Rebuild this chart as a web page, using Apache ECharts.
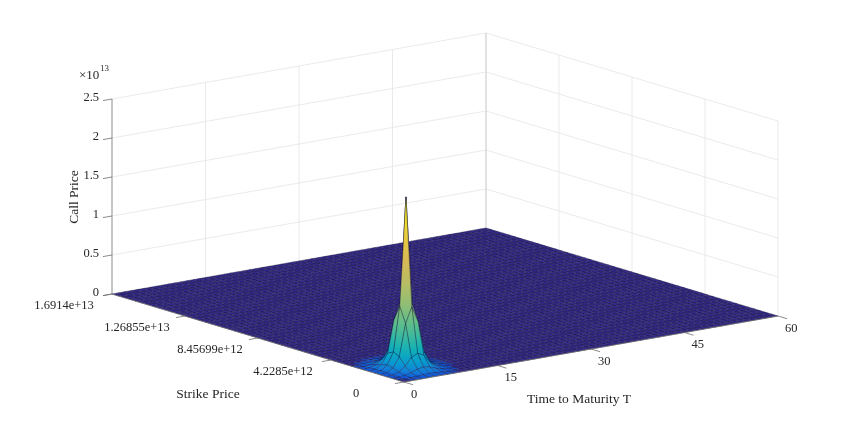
<!DOCTYPE html>
<html>
<head>
<meta charset="utf-8">
<script src="https://cdn.jsdelivr.net/npm/echarts@6/dist/echarts.min.js"></script>
<style>
  html, body { margin: 0; padding: 0; background: #fff; }
  #chart { width: 855px; height: 432px; }
</style>
</head>
<body>
<div id="chart"></div>
<script>
// axis ranges
const strikeMax = 1.6914e13;
const maturityMax = 60;
const priceAxisMax = 2.5e13;

// ticks
const strikeTicks = [0, 4.2285e12, 8.45699e12, 1.26855e13, 1.6914e13];
const strikeTickLabels = ['0', '4.2285e+12', '8.45699e+12', '1.26855e+13', '1.6914e+13'];
const maturityTicks = [0, 15, 30, 45, 60];
const maturityTickLabels = ['0', '15', '30', '45', '60'];
const priceTicks = [0, 0.5e13, 1e13, 1.5e13, 2e13, 2.5e13];
const priceTickLabels = ['0', '0.5', '1', '1.5', '2', '2.5'];

// surface grid: 51 strikes, 61 maturities (T = 0..60)
const strikeSteps = 50;
const maturitySteps = 60;

// call prices (x1e12) round the spike, rows = strike index 0..12, cols = maturity index 0..12
// the rest of the surface reads as 0 on the picture
const spikePrices = [
  [0.00, 0.00, 0.00, 0.00, 0.01, 0.02, 0.01, 0.00, 0.00, 0.00, 0.00, 0.00, 0.00],
  [0.00, 0.00, 0.02, 0.07, 0.12, 0.15, 0.12, 0.07, 0.02, 0.00, 0.00, 0.00, 0.00],
  [0.00, 0.02, 0.10, 0.30, 0.60, 0.75, 0.60, 0.30, 0.10, 0.02, 0.00, 0.00, 0.00],
  [0.00, 0.07, 0.30, 0.90, 1.90, 2.30, 1.90, 0.90, 0.30, 0.07, 0.00, 0.00, 0.00],
  [0.01, 0.12, 0.60, 1.90, 6.00, 8.00, 6.00, 1.90, 0.60, 0.12, 0.01, 0.00, 0.00],
  [0.02, 0.15, 0.75, 2.30, 8.00, 21.9, 8.00, 2.30, 0.75, 0.15, 0.02, 0.00, 0.00],
  [0.01, 0.12, 0.60, 1.90, 6.00, 8.00, 6.00, 1.90, 0.60, 0.12, 0.01, 0.00, 0.00],
  [0.00, 0.07, 0.30, 0.90, 1.90, 2.30, 1.90, 0.90, 0.30, 0.07, 0.00, 0.00, 0.00],
  [0.00, 0.02, 0.10, 0.30, 0.60, 0.75, 0.60, 0.30, 0.10, 0.02, 0.00, 0.00, 0.00],
  [0.00, 0.00, 0.02, 0.07, 0.12, 0.15, 0.12, 0.07, 0.02, 0.00, 0.00, 0.00, 0.00],
  [0.00, 0.00, 0.00, 0.00, 0.01, 0.02, 0.01, 0.00, 0.00, 0.00, 0.00, 0.00, 0.00],
  [0.00, 0.00, 0.00, 0.00, 0.00, 0.00, 0.00, 0.00, 0.00, 0.00, 0.00, 0.00, 0.00],
  [0.00, 0.00, 0.00, 0.00, 0.00, 0.00, 0.00, 0.00, 0.00, 0.00, 0.00, 0.00, 0.00]
];

// --- view (orthographic, like matlab's default 3-D view) ---
const ORIGIN = [404, 382];       // K=0, T=0, C=0
const STRIKE_VEC = [-292, -88];  // K: 0 -> strikeMax
const MATURITY_VEC = [374, -66]; // T: 0 -> maturityMax
const PRICE_VEC = -195;          // C: 0 -> priceAxisMax

const FONT = '"Liberation Serif", "Times New Roman", serif';
const TEXT_COLOR = '#262626';
const GRID_COLOR = '#e4e4e4';
const AXIS_COLOR = '#6e6e6e';

// parula colormap anchors
const PARULA = [
  [53, 42, 135], [15, 92, 221], [18, 125, 216], [7, 156, 207], [21, 177, 180],
  [89, 189, 140], [165, 190, 107], [225, 185, 82], [249, 251, 14]
];

function parula(f) {
  f = Math.max(0, Math.min(1, f));
  const p = f * (PARULA.length - 1);
  const i = Math.min(Math.floor(p), PARULA.length - 2);
  const w = p - i;
  const a = PARULA[i], b = PARULA[i + 1];
  return 'rgb(' + [0, 1, 2].map(c => Math.round(a[c] + (b[c] - a[c]) * w)).join(',') + ')';
}

// the coarse mesh needs a bent colour scale to look like matlab's faceted spike
function priceColor(c) {
  return parula(Math.pow(Math.max(0, c) / peakPrice, 0.35));
}

function project(K, T, C) {
  const kf = K / strikeMax, tf = T / maturityMax, cf = C / priceAxisMax;
  return [
    ORIGIN[0] + STRIKE_VEC[0] * kf + MATURITY_VEC[0] * tf,
    ORIGIN[1] + STRIKE_VEC[1] * kf + MATURITY_VEC[1] * tf + PRICE_VEC * cf
  ];
}

function priceAt(k, t) {
  if (k < spikePrices.length && t < spikePrices[0].length) return spikePrices[k][t] * 1e12;
  return 0;
}
function strikeAt(k) { return k * strikeMax / strikeSteps; }
function maturityAt(t) { return t * maturityMax / maturitySteps; }

let peakPrice = 0;
spikePrices.forEach(r => r.forEach(v => { peakPrice = Math.max(peakPrice, v * 1e12); }));

// faces drawn back to front
const faces = [];
for (let k = 0; k < strikeSteps; k++) {
  for (let t = 0; t < maturitySteps; t++) faces.push([k, t]);
}
const depth = f => STRIKE_VEC[1] * (f[0] + 0.5) / strikeSteps + MATURITY_VEC[1] * (f[1] + 0.5) / maturitySteps;
faces.sort((a, b) => depth(a) - depth(b));

// grid lines on the two back walls
const wallLines = [];
priceTicks.forEach(c => {
  wallLines.push({ a: [strikeMax, 0, c], b: [strikeMax, maturityMax, c] });
  wallLines.push({ a: [0, maturityMax, c], b: [strikeMax, maturityMax, c] });
});
maturityTicks.slice(1, -1).forEach(t => {
  wallLines.push({ a: [strikeMax, t, 0], b: [strikeMax, t, priceAxisMax] });
});
strikeTicks.slice(0, -1).forEach(k => {
  wallLines.push({ a: [k, maturityMax, 0], b: [k, maturityMax, priceAxisMax] });
});
wallLines.push({ a: [strikeMax, maturityMax, 0], b: [strikeMax, maturityMax, priceAxisMax], corner: true });

// axis lines and ticks
const tickT = 1.45;                 // tick length in maturity units
const tickK = 0.031 * strikeMax;    // tick length in strike units
const axisLines = [
  { a: [0, 0, 0], b: [strikeMax, 0, 0] },
  { a: [0, 0, 0], b: [0, maturityMax, 0] },
  { a: [strikeMax, 0, 0], b: [strikeMax, 0, priceAxisMax] }
];
strikeTicks.forEach(k => axisLines.push({ a: [k, 0, 0], b: [k, -tickT, 0] }));
maturityTicks.forEach(t => axisLines.push({ a: [0, t, 0], b: [-tickK, t, 0] }));
priceTicks.forEach(c => axisLines.push({ a: [strikeMax, 0, c], b: [strikeMax, -tickT, c] }));

// tick labels
const tickLabels = [];
strikeTicks.forEach((k, i) => tickLabels.push({ p: [k, 0, 0], text: strikeTickLabels[i], dx: -48, dy: 11.5, align: 'center' }));
maturityTicks.forEach((t, i) => tickLabels.push({ p: [0, t, 0], text: maturityTickLabels[i], dx: 7, dy: 12.5, align: 'left' }));
priceTicks.forEach((c, i) => tickLabels.push({ p: [strikeMax, 0, c], text: priceTickLabels[i], dx: -13, dy: -1, align: 'right' }));

function lineItem(api, seg, style) {
  const a = api.coord(project(...seg.a));
  const b = api.coord(project(...seg.b));
  return { type: 'line', shape: { x1: a[0], y1: a[1], x2: b[0], y2: b[1] }, style: style };
}

const chart = echarts.init(document.getElementById('chart'));

chart.setOption({
  animation: false,
  backgroundColor: '#ffffff',
  grid: { left: 0, right: 0, top: 0, bottom: 0 },
  xAxis: { type: 'value', min: 0, max: 855, show: false },
  yAxis: { type: 'value', min: 0, max: 432, inverse: true, show: false },
  graphic: [
    { type: 'text', x: 79, y: 76, style: { text: '×10', font: '13px ' + FONT, fill: TEXT_COLOR, align: 'left', verticalAlign: 'middle' } },
    { type: 'text', x: 100, y: 69, style: { text: '13', font: '9px ' + FONT, fill: TEXT_COLOR, align: 'left', verticalAlign: 'middle' } },
    { type: 'text', x: 74, y: 197, rotation: Math.PI / 2, style: { text: 'Call Price', font: '13.5px ' + FONT, fill: TEXT_COLOR, align: 'center', verticalAlign: 'middle' } },
    { type: 'text', x: 208, y: 394, style: { text: 'Strike Price', font: '13.5px ' + FONT, fill: TEXT_COLOR, align: 'center', verticalAlign: 'middle' } },
    { type: 'text', x: 579, y: 399, style: { text: 'Time to Maturity T', font: '13.5px ' + FONT, fill: TEXT_COLOR, align: 'center', verticalAlign: 'middle' } }
  ],
  series: [
    {
      name: 'walls',
      type: 'custom',
      silent: true,
      z: 1,
      data: wallLines.map((_, i) => [i, 0]),
      renderItem: (params, api) => {
        const seg = wallLines[params.dataIndex];
        return lineItem(api, seg, {
          stroke: seg.corner ? '#d9d9d9' : GRID_COLOR,
          lineWidth: seg.corner ? 1.5 : 0.8
        });
      }
    },
    {
      name: 'Call Price',
      type: 'custom',
      silent: true,
      z: 2,
      data: faces,
      renderItem: (params, api) => {
        const k = api.value(0), t = api.value(1);
        const corners = [[k, t], [k + 1, t], [k + 1, t + 1], [k, t + 1]];
        const zs = corners.map(c => priceAt(c[0], c[1]));
        const pts = corners.map((c, i) => api.coord(project(strikeAt(c[0]), maturityAt(c[1]), zs[i])));
        const zmin = Math.min(...zs), zmax = Math.max(...zs);
        let fill;
        if ((zmax - zmin) / priceAxisMax * -PRICE_VEC < 1) {
          fill = priceColor((zmin + zmax) / 2);
        } else {
          const ys = pts.map(p => p[1]);
          const yTop = Math.min(...ys), yBot = Math.max(...ys);
          const stops = [];
          for (let s = 0; s <= 6; s++) {
            stops.push({ offset: s / 6, color: priceColor(zmax - (zmax - zmin) * s / 6) });
          }
          fill = { type: 'linear', x: pts[0][0], y: yTop, x2: pts[0][0], y2: yBot, colorStops: stops, global: true };
        }
        return {
          type: 'polygon',
          shape: { points: pts },
          style: { fill: fill, stroke: 'rgba(12,8,55,0.6)', lineWidth: 0.55 }
        };
      }
    },
    {
      name: 'axes',
      type: 'custom',
      silent: true,
      z: 3,
      data: axisLines.map((_, i) => [i, 0]),
      renderItem: (params, api) => lineItem(api, axisLines[params.dataIndex], { stroke: AXIS_COLOR, lineWidth: 0.8 })
    },
    {
      name: 'tick labels',
      type: 'custom',
      silent: true,
      z: 4,
      data: tickLabels.map((_, i) => [i, 0]),
      renderItem: (params, api) => {
        const lb = tickLabels[params.dataIndex];
        const p = api.coord(project(...lb.p));
        return {
          type: 'text',
          x: p[0] + lb.dx,
          y: p[1] + lb.dy,
          style: {
            text: lb.text,
            font: '12.5px ' + FONT,
            fill: TEXT_COLOR,
            align: lb.align,
            verticalAlign: 'middle'
          }
        };
      }
    }
  ]
});
</script>
</body>
</html>
